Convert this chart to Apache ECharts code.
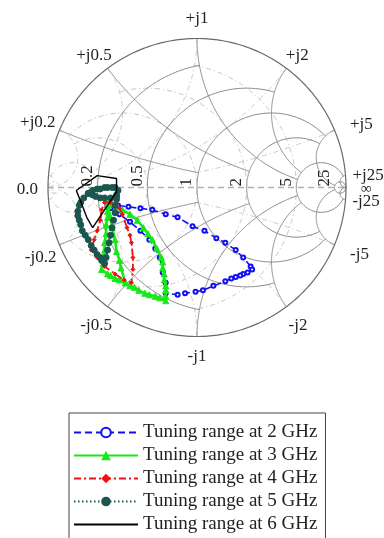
<!DOCTYPE html>
<html><head><meta charset="utf-8">
<script src="https://cdn.jsdelivr.net/npm/echarts@6/dist/echarts.min.js"></script>
<style>html,body{margin:0;padding:0;background:#fff}#c{width:384px;height:538px}</style>
</head><body><div id="c"></div>
<script>
// ---- data: reflection coefficient [Re(Γ), Im(Γ)] ----
const seriesNames = ['Tuning range at 2 GHz','Tuning range at 3 GHz','Tuning range at 4 GHz','Tuning range at 5 GHz','Tuning range at 6 GHz'];
const gamma2GHz = [
 [-0.60,-0.13],[-0.53,-0.12],[-0.46,-0.13],[-0.38,-0.14],[-0.30,-0.15],[-0.21,-0.18],[-0.13,-0.20],
 [-0.03,-0.26],[0.05,-0.29],[0.13,-0.34],[0.19,-0.37],[0.26,-0.42],[0.31,-0.47],[0.36,-0.53],[0.37,-0.55],
 [0.34,-0.57],[0.31,-0.58],[0.29,-0.59],[0.26,-0.60],[0.23,-0.61],[0.19,-0.63],[0.11,-0.66],[0.04,-0.69],[-0.01,-0.70],[-0.08,-0.71],
 [-0.13,-0.72],[-0.21,-0.71],[-0.21,-0.64],[-0.23,-0.57],[-0.25,-0.47],[-0.28,-0.41],[-0.32,-0.35],
 [-0.38,-0.29],[-0.45,-0.23],[-0.52,-0.18],[-0.58,-0.14],[-0.60,-0.13]
];
const gamma3GHz = [
 [-0.60,-0.10],[-0.57,-0.11],[-0.54,-0.13],[-0.50,-0.15],[-0.45,-0.18],[-0.40,-0.22],[-0.36,-0.27],[-0.33,-0.31],
 [-0.30,-0.35],[-0.27,-0.41],[-0.24,-0.47],[-0.23,-0.50],[-0.23,-0.54],[-0.22,-0.58],[-0.22,-0.62],[-0.21,-0.66],
 [-0.21,-0.69],[-0.21,-0.73],[-0.21,-0.76],[-0.25,-0.74],[-0.28,-0.73],[-0.32,-0.72],[-0.35,-0.71],[-0.39,-0.69],
 [-0.42,-0.67],[-0.45,-0.66],[-0.48,-0.64],[-0.52,-0.62],[-0.55,-0.61],[-0.58,-0.59],[-0.60,-0.58],[-0.64,-0.55],
 [-0.63,-0.51],[-0.63,-0.47],[-0.62,-0.42],[-0.62,-0.37],[-0.61,-0.31],[-0.61,-0.25],[-0.60,-0.20],
 [-0.60,-0.16],[-0.60,-0.12],[-0.58,-0.20],[-0.57,-0.27],[-0.55,-0.35],[-0.54,-0.43],[-0.52,-0.49],[-0.51,-0.54],[-0.48,-0.64]
];
const gamma4GHz = [
 [-0.62,-0.10],[-0.58,-0.10],[-0.54,-0.11],[-0.52,-0.14],[-0.50,-0.18],[-0.47,-0.27],[-0.45,-0.32],[-0.44,-0.37],[-0.43,-0.47],
 [-0.43,-0.55],[-0.44,-0.64],[-0.49,-0.62],[-0.55,-0.58],[-0.62,-0.53],[-0.67,-0.47],[-0.71,-0.42],
 [-0.69,-0.35],[-0.67,-0.29],[-0.65,-0.22],[-0.64,-0.15],[-0.62,-0.10]
];
const gamma5GHz = [
 [-0.73,-0.04],[-0.71,-0.03],[-0.70,-0.02],[-0.67,-0.01],[-0.65,-0.01],[-0.62,0.00],[-0.60,0.00],[-0.57,0.00],[-0.55,0.00],
 [-0.53,-0.02],[-0.54,-0.05],[-0.54,-0.08],[-0.55,-0.12],[-0.55,-0.17],[-0.56,-0.22],[-0.57,-0.27],[-0.58,-0.32],
 [-0.59,-0.37],[-0.60,-0.42],[-0.61,-0.47],[-0.62,-0.51],[-0.64,-0.49],[-0.65,-0.47],[-0.67,-0.45],[-0.69,-0.42],
 [-0.71,-0.39],[-0.73,-0.35],[-0.75,-0.32],[-0.77,-0.29],[-0.78,-0.25],[-0.79,-0.22],[-0.80,-0.19],[-0.80,-0.16],
 [-0.79,-0.12],[-0.78,-0.10],[-0.76,-0.07],[-0.73,-0.04],[-0.70,-0.05],[-0.68,-0.06],[-0.65,-0.07],[-0.62,-0.07],
 [-0.58,-0.07],[-0.54,-0.06]
];
const gamma6GHz = [
 [-0.81,-0.02],[-0.67,0.08],[-0.54,0.06],[-0.54,-0.03],[-0.62,-0.15],[-0.70,-0.27],[-0.74,-0.20],
 [-0.77,-0.12],[-0.81,-0.02]
];
// ---- Smith chart grid values ----
const resistanceValues = [0.2, 0.5, 1, 2, 5, 25];
const resistanceLimits = [1, 2, 5, 5, 25, Infinity];
const reactanceValues = [0.2, 0.5, 1, 2, 5, 25];
const reactanceLimits = [1, 2, 5, 5, 25, Infinity];
const resistanceLabels = ['0.2', '0.5', '1', '2', '5', '25'];
const posReactanceLabels = ['+j0.2', '+j0.5', '+j1', '+j2', '+j5', '+j25'];
const negReactanceLabels = ['-j0.2', '-j0.5', '-j1', '-j2', '-j5', '-j25'];
const edgeLabels = ['0.0', '\u221E'];
// small layout nudges (px) for the rim labels
const posNudge = [[4, 0], [3, 2], [0, -1], [-2, 2], [7, 2], [-3, 1]];
const negNudge = [[5, 5], [4, 4], [0, 1], [0, 4], [7, 2], [-3, 1]];

// ---- helpers ----
function zToGamma(r, x) {
  if (!isFinite(r) || !isFinite(x)) return [1, 0];
  const den = (r + 1) * (r + 1) + x * x;
  return [(r * r - 1 + x * x) / den, 2 * x / den];
}
function rCircle(r, L) {
  const a = isFinite(L) ? Math.atan(L) : Math.PI / 2;
  const pts = [], N = 240;
  for (let i = 0; i <= N; i++) {
    const th = -a + 2 * a * i / N;
    const x = Math.abs(Math.abs(th) - Math.PI / 2) < 1e-9 ? Infinity : Math.tan(th);
    pts.push(zToGamma(r, x));
  }
  return pts;
}
function xArc(x, R) {
  const tR = isFinite(R) ? R / (1 + R) : 1;
  const pts = [], N = 200;
  for (let i = 0; i <= N; i++) {
    const t = tR * i / N;
    const r = t >= 1 ? Infinity : t / (1 - t);
    pts.push(zToGamma(r, x));
  }
  return pts;
}
function buildGrid(sign) {
  const out = [];
  resistanceValues.forEach((r, i) => out.push({coords: rCircle(r, resistanceLimits[i]).map(p => [sign * p[0], sign * p[1]])}));
  reactanceValues.forEach((x, i) => {
    out.push({coords: xArc(x, reactanceLimits[i]).map(p => [sign * p[0], sign * p[1]])});
    out.push({coords: xArc(-x, reactanceLimits[i]).map(p => [sign * p[0], sign * p[1]])});
  });
  return out;
}
const outer = [];
for (let i = 0; i <= 360; i++) { const a = i * Math.PI / 180; outer.push([Math.cos(a), Math.sin(a)]); }

const FONT = 'Liberation Serif';
const chart = echarts.init(document.getElementById('c'), null, {renderer: 'canvas'});

const styles = [
  {color: '#1010f0', type: [7, 4], symbol: 'emptyCircle', size: 4, width: 1.6},
  {color: '#18e818', type: 'solid', symbol: 'triangle', size: 6, width: 2.6},
  {color: '#f01010', type: [7, 3, 2, 3], symbol: 'diamond', size: 4, width: 1.8},
  {color: '#1b564f', type: [1.5, 2.5], symbol: 'circle', size: 6, width: 2.4},
  {color: '#000000', type: 'solid', symbol: 'none', size: 0, width: 1.4}
];
const datasets = [gamma2GHz, gamma3GHz, gamma4GHz, gamma5GHz, gamma6GHz];

const dataSeries = datasets.map((d, i) => ({
  type: 'line', name: seriesNames[i], data: d, z: 10 + i,
  showSymbol: styles[i].symbol !== 'none', symbol: styles[i].symbol, symbolSize: styles[i].size,
  itemStyle: {color: styles[i].color, borderColor: styles[i].color},
  lineStyle: {color: styles[i].color, type: styles[i].type, width: styles[i].width},
  clip: false, silent: true, animation: false
}));

const legendData = seriesNames.map((n, i) => i === 0
  ? {name: n, itemStyle: {color: styles[0].color}}
  : (styles[i].symbol === 'none' ? {name: n, itemStyle: {opacity: 0}} : {name: n}));

chart.setOption({
  animation: false,
  backgroundColor: '#fff',
  grid: {left: 48, top: 38.5, width: 298, height: 298},
  xAxis: {type: 'value', min: -1, max: 1, show: false},
  yAxis: {type: 'value', min: -1, max: 1, show: false},
  legend: {
    orient: 'vertical', left: 69, top: 413, height: 150,
    padding: [10, 8, 9, 4], itemGap: 4, itemWidth: 64, itemHeight: 12,
    borderColor: '#444', borderWidth: 1, backgroundColor: '#fff',
    textStyle: {fontFamily: FONT, fontSize: 19, color: '#222'},
    data: legendData
  },
  series: [
    {type: 'lines', coordinateSystem: 'cartesian2d', polyline: true, silent: true, z: 1,
     lineStyle: {color: '#c4c4c4', width: 1, type: [5, 3, 1, 3], opacity: 1}, data: buildGrid(-1)},
    {type: 'lines', coordinateSystem: 'cartesian2d', polyline: true, silent: true, z: 2,
     lineStyle: {color: '#8a8a8a', width: 1, type: 'solid', opacity: 1}, data: buildGrid(1)},
    {type: 'lines', coordinateSystem: 'cartesian2d', polyline: true, silent: true, z: 3,
     lineStyle: {color: '#b0b0b0', width: 1.5, type: [6, 4], opacity: 1}, data: [{coords: [[-1, 0], [1, 0]]}]},
    {type: 'lines', coordinateSystem: 'cartesian2d', polyline: true, silent: true, z: 3,
     lineStyle: {color: '#6a6a6a', width: 1.2, type: 'solid', opacity: 1}, data: [{coords: outer}]}
  ].concat(dataSeries)
});

// ---- tick labels placed through the chart's own coordinate conversion ----
const ctx = document.createElement('canvas').getContext('2d');
function textW(t, size) { ctx.font = size + 'px "' + FONT + '"'; return ctx.measureText(t).width; }
const gfx = [];
const toPx = p => chart.convertToPixel({gridIndex: 0}, p);
const center = toPx([0, 0]);
resistanceValues.forEach((r, i) => {
  const p = toPx([(r - 1) / (r + 1), 0]);
  gfx.push({type: 'text', x: p[0] - 10, y: p[1] - 1, rotation: Math.PI / 2, silent: true, z: 20,
    style: {text: resistanceLabels[i], fontFamily: FONT, fontSize: 17, fill: '#222', align: 'left', verticalAlign: 'middle'}});
});
function edgeLabel(g, text, size, nudge) {
  const p = toPx(g);
  let ux = p[0] - center[0], uy = p[1] - center[1];
  const n = Math.hypot(ux, uy); ux /= n; uy /= n;
  const w = textW(text, size);
  gfx.push({type: 'text', x: p[0] + ux * 10 + ux * w / 2 + nudge[0], y: p[1] + uy * 10 + uy * 9 + nudge[1], silent: true, z: 20,
    style: {text: text, fontFamily: FONT, fontSize: size, fill: '#222', align: 'center', verticalAlign: 'middle'}});
}
reactanceValues.forEach((x, i) => {
  edgeLabel(zToGamma(0, x), posReactanceLabels[i], 17, posNudge[i]);
  edgeLabel(zToGamma(0, -x), negReactanceLabels[i], 17, negNudge[i]);
});
edgeLabel([-1, 0], edgeLabels[0], 17, [0, 2]);
edgeLabel([1, 0], edgeLabels[1], 15, [5, 2]);
chart.setOption({graphic: gfx});
</script></body></html>
